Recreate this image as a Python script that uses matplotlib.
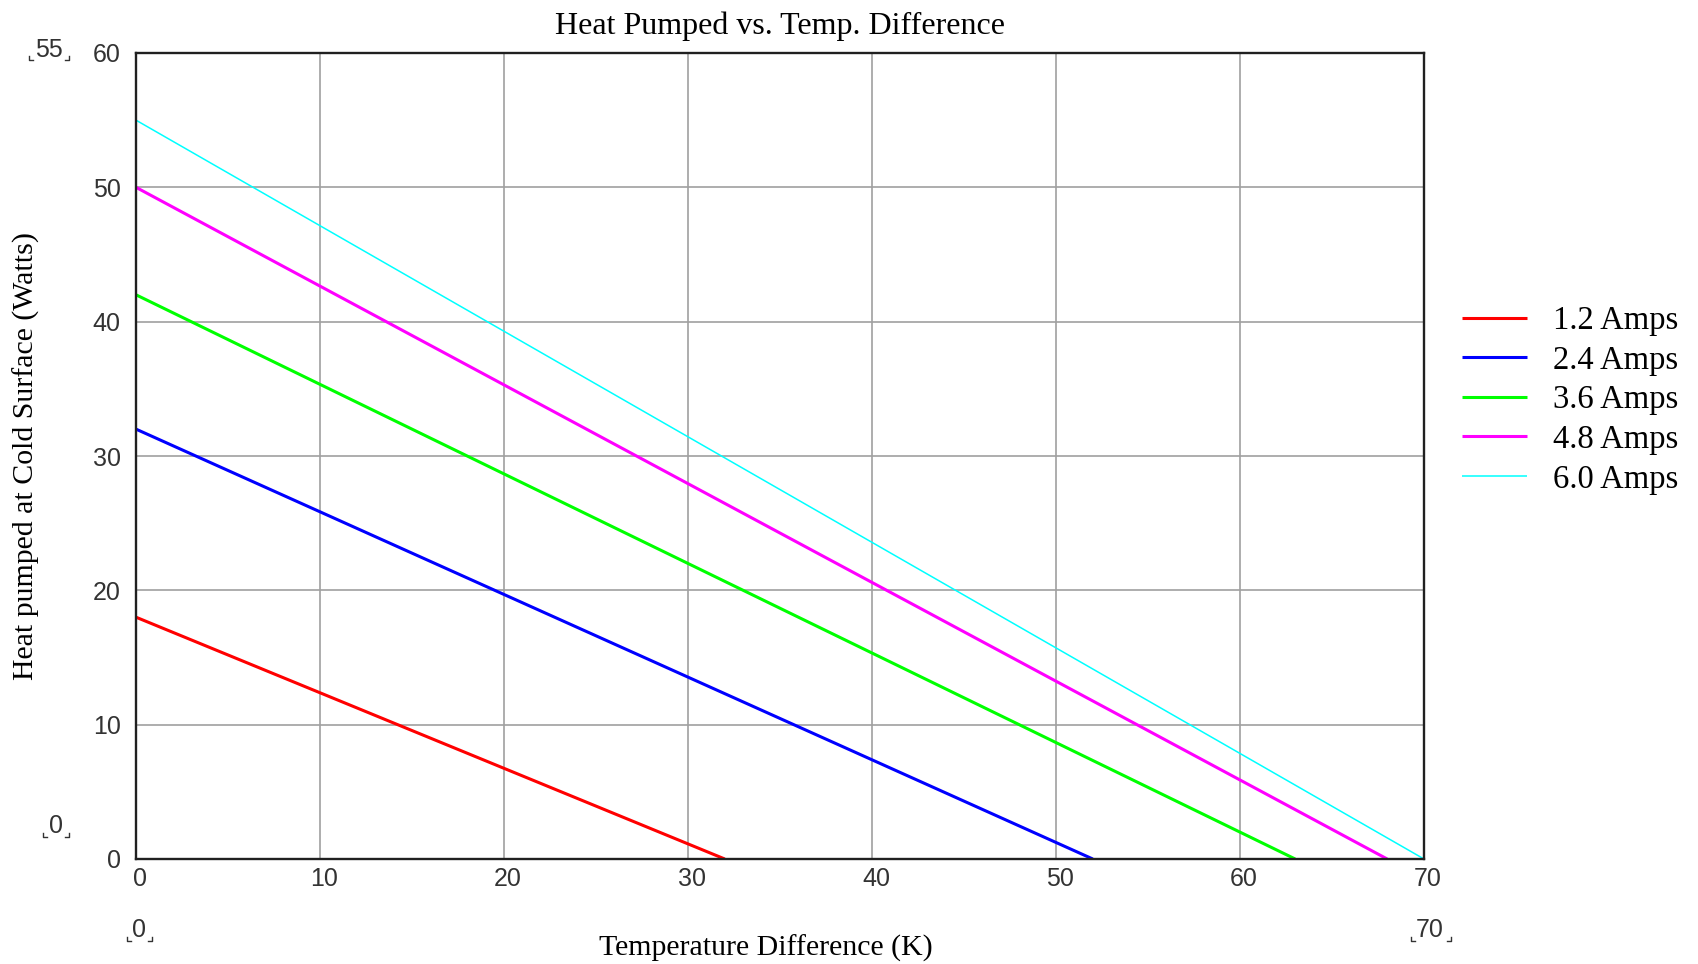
import numpy as np
import matplotlib
matplotlib.use("Agg")
import matplotlib.pyplot as plt
import matplotlib.transforms as mtransforms
from matplotlib.lines import Line2D

# data
labels = ["1.2 Amps", "2.4 Amps", "3.6 Amps", "4.8 Amps", "6.0 Amps"]
q_max = [18, 32, 42, 50, 55]      # heat pumped at dT = 0 (W)
dt_max = [32, 52, 63, 68, 70]     # dT where heat pumped reaches 0 (K)
colors = ["#ff0000", "#0000ff", "#00ff00", "#ff00ff", "#00ffff"]
widths = [2.2, 2.2, 2.2, 2.2, 1.1]

x_ticks = [0, 10, 20, 30, 40, 50, 60, 70]
y_ticks = [0, 10, 20, 30, 40, 50, 60]

W, H = 1698, 964
fig = plt.figure(figsize=(W / 100, H / 100), dpi=100)
ax = fig.add_axes([136 / W, 1 - 859 / H, (1424 - 136) / W, (859 - 53) / H])

serif = "Liberation Serif"
sans = "Liberation Sans"
tick_col = "#333333"

for q, dt, c, lw, lab in zip(q_max, dt_max, colors, widths, labels):
    ax.plot([0, dt], [q, 0], color=c, lw=lw, label=lab, solid_capstyle="butt")

ax.set_xlim(0, 70)
ax.set_ylim(0, 60)
ax.set_xticks(x_ticks)
ax.set_yticks(y_ticks)
ax.grid(True, color="#a0a0a0", lw=1.2)
ax.set_axisbelow(True)
ax.tick_params(length=0, labelsize=18, labelcolor=tick_col)
ax.tick_params(axis="x", pad=6)
ax.tick_params(axis="y", pad=11)
for t in ax.get_xticklabels() + ax.get_yticklabels():
    t.set_fontfamily(sans)
# x tick labels sit a few pixels right of their gridlines in the original
shift = mtransforms.ScaledTranslation(4 / 100, 0, fig.dpi_scale_trans)
for t in ax.get_xticklabels():
    t.set_transform(t.get_transform() + shift)
for sp in ax.spines.values():
    sp.set_color("#202020")
    sp.set_linewidth(1.7)

fig.text(780 / W, 1 - 26 / H, "Heat Pumped vs. Temp. Difference",
         family=serif, fontsize=23, ha="center", va="center")
fig.text(26 / W, 1 - 456 / H, "Heat pumped at Cold Surface (Watts)",
         family=serif, fontsize=21.5, ha="center", va="center", rotation=90)
fig.text(766 / W, 1 - 948 / H, "Temperature Difference (K)",
         family=serif, fontsize=21.5, ha="center", va="center")

leg = fig.legend(loc="center left", bbox_to_anchor=(1462 / W, 1 - 400 / H),
                 frameon=False, prop={"family": serif, "size": 23.5},
                 handlelength=2.0, handletextpad=0.8, labelspacing=0.28,
                 borderpad=0, borderaxespad=0)


# mathcad style limit markers
def limit_mark(cx, base, s, left, right, bottom):
    fig.text(cx / W, 1 - base / H, s, family=sans, fontsize=18,
             color=tick_col, ha="center", va="baseline")
    arm = 4
    for x0, dx in [(left, arm), (right, -arm)]:
        fig.add_artist(Line2D([x0 / W, x0 / W, (x0 + dx) / W],
                              [1 - (bottom - arm) / H, 1 - bottom / H, 1 - bottom / H],
                              color=tick_col, lw=1.0))


limit_mark(48.5, 57, "55", 29, 69, 60)
limit_mark(55.5, 833, "0", 43, 69, 837)
limit_mark(139, 937, "0", 127, 152, 941)
limit_mark(1429.5, 937, "70", 1411, 1451, 941)

fig.savefig("out.png", dpi=100)
